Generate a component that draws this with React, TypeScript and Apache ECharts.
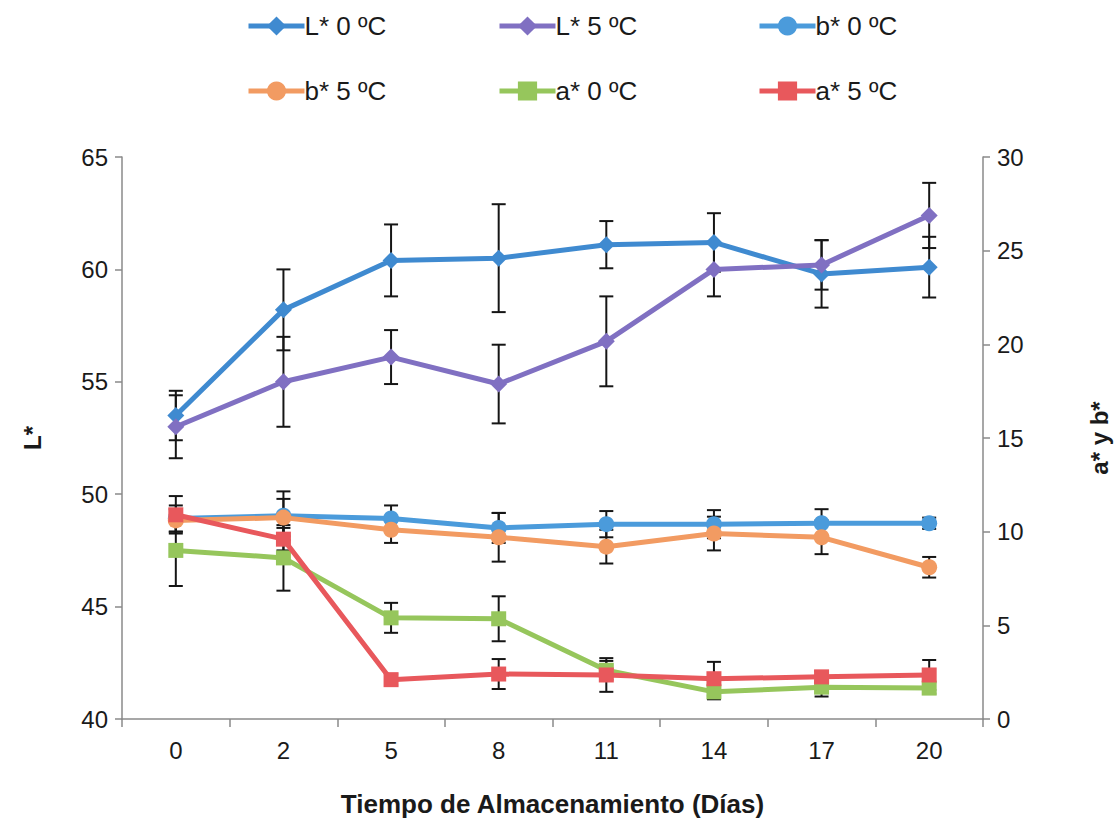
import React, { useEffect, useRef } from "react";
import * as echarts from "echarts";

const days = ["0", "2", "5", "8", "11", "14", "17", "20"];

const L0 = [53.5, 58.2, 60.4, 60.5, 61.1, 61.2, 59.8, 60.1];
const L0err = [1.1, 1.8, 1.6, 2.4, 1.05, 1.3, 1.5, 1.35];
const L5 = [53.0, 55.0, 56.1, 54.9, 56.8, 60.0, 60.2, 62.4];
const L5err = [1.4, 2.0, 1.2, 1.75, 2.0, 1.2, 1.1, 1.45];

const b0 = [10.7, 10.85, 10.7, 10.2, 10.4, 10.4, 10.45, 10.45];
const b0err = [0.7, 1.3, 0.7, 0.8, 0.7, 0.75, 0.75, 0.3];
const b5 = [10.6, 10.75, 10.1, 9.7, 9.2, 9.9, 9.7, 8.1];
const b5err = [0.6, 1.0, 0.7, 1.3, 0.9, 0.9, 0.9, 0.55];
const a0 = [9.0, 8.6, 5.4, 5.35, 2.6, 1.45, 1.7, 1.65];
const a0err = [1.9, 1.75, 0.8, 1.2, 0.5, 0.4, 0.5, 0.3];
const a5 = [10.9, 9.6, 2.1, 2.4, 2.35, 2.15, 2.25, 2.35];
const a5err = [1.0, 0.6, 0.3, 0.8, 0.9, 0.9, 0.3, 0.8];

const names = ["L* 0 ºC", "L* 5 ºC", "b* 0 ºC", "b* 5 ºC", "a* 0 ºC", "a* 5 ºC"];
const colors = ["#3F8AD0", "#8070C2", "#4B9BDB", "#F29B62", "#96C65C", "#E8585C"];
const symbols = ["diamond", "diamond", "circle", "circle", "rect", "rect"];
const symbolSizes = [17, 17, 16, 16, 15, 15];
const values = [L0, L5, b0, b5, a0, a5];
const errors = [L0err, L5err, b0err, b5err, a0err, a5err];
const axisIdx = [0, 0, 1, 1, 1, 1];

const FONT = "Liberation Sans, Arial, sans-serif";

export default function App() {
  const ref = useRef<HTMLDivElement>(null);
  useEffect(() => {
    if (!ref.current) return;
    const chart = echarts.init(ref.current, null, { renderer: "svg" });

    const errSeries = values.map((vals, s) => ({
      type: "custom",
      name: names[s] + " err",
      yAxisIndex: axisIdx[s],
      z: 1,
      silent: true,
      encode: { x: 0, y: 1 },
      data: vals.map((v, i) => [i, v, errors[s][i]]),
      renderItem: (params: any, api: any) => {
        const x = api.value(0);
        const v = api.value(1);
        const e = api.value(2);
        const top = api.coord([x, v + e]);
        const bot = api.coord([x, v - e]);
        const w = 7;
        const st = { stroke: "#151515", lineWidth: 2 };
        return {
          type: "group",
          children: [
            { type: "line", shape: { x1: top[0], y1: top[1], x2: bot[0], y2: bot[1] }, style: st },
            { type: "line", shape: { x1: top[0] - w, y1: top[1], x2: top[0] + w, y2: top[1] }, style: st },
            { type: "line", shape: { x1: bot[0] - w, y1: bot[1], x2: bot[0] + w, y2: bot[1] }, style: st },
          ],
        };
      },
    }));

    const lineSeries = values.map((vals, s) => ({
      type: "line",
      name: names[s],
      yAxisIndex: axisIdx[s],
      data: vals,
      z: 3 + s,
      symbol: symbols[s],
      symbolSize: symbolSizes[s],
      showAllSymbol: true,
      lineStyle: { color: colors[s], width: 5 },
      itemStyle: { color: colors[s] },
    }));

    const legendPos = [
      [246, 13],
      [497, 13],
      [757, 13],
      [246, 78],
      [497, 78],
      [757, 78],
    ];

    const legends = names.map((n, i) => ({
      data: [n],
      left: legendPos[i][0],
      top: legendPos[i][1],
      padding: 0,
      itemWidth: 56,
      itemHeight: 24,
      itemGap: 0,
      selectedMode: false,
      lineStyle: { width: 5 },
      textStyle: { fontSize: 26, fontFamily: FONT, color: "#1a1a1a", padding: [0, 0, 0, -5] },
    }));

    const axisLabelStyle = { fontSize: 24, fontFamily: FONT, color: "#1a1a1a" };
    const axisLineStyle = { lineStyle: { color: "#8a8a8a", width: 1.5 } };

    chart.setOption({
      animation: false,
      backgroundColor: "#ffffff",
      legend: legends,
      grid: { left: 122, right: 132, top: 157, bottom: 102, containLabel: false },
      xAxis: {
        type: "category",
        data: days,
        boundaryGap: true,
        axisLine: axisLineStyle,
        axisTick: { show: true, alignWithLabel: false, length: 8, lineStyle: { color: "#8a8a8a", width: 1.5 } },
        axisLabel: { ...axisLabelStyle, margin: 19 },
        name: "Tiempo de Almacenamiento (Días)",
        nameLocation: "middle",
        nameGap: 72,
        nameTextStyle: { fontSize: 26, fontWeight: "bold", fontFamily: FONT, color: "#1a1a1a" },
        splitLine: { show: false },
      },
      yAxis: [
        {
          type: "value",
          min: 40,
          max: 65,
          interval: 5,
          position: "left",
          axisLine: { show: true, ...axisLineStyle },
          axisTick: { show: true, length: 7, lineStyle: { color: "#8a8a8a", width: 1.5 } },
          axisLabel: { ...axisLabelStyle, margin: 14 },
          splitLine: { show: false },
          name: "L*",
          nameLocation: "middle",
          nameRotate: 90,
          nameGap: 78,
          nameTextStyle: { fontSize: 24, fontWeight: "bold", fontFamily: FONT, color: "#1a1a1a" },
        },
        {
          type: "value",
          min: 0,
          max: 30,
          interval: 5,
          position: "right",
          axisLine: { show: true, ...axisLineStyle },
          axisTick: { show: true, length: 7, lineStyle: { color: "#8a8a8a", width: 1.5 } },
          axisLabel: { ...axisLabelStyle, margin: 14 },
          splitLine: { show: false },
          name: "a* y b*",
          nameLocation: "middle",
          nameRotate: 90,
          nameGap: 104,
          nameTextStyle: { fontSize: 24, fontWeight: "bold", fontFamily: FONT, color: "#1a1a1a" },
        },
      ],
      series: [...errSeries, ...lineSeries],
    });

    return () => chart.dispose();
  }, []);

  return (
    <div
      ref={ref}
      style={{ position: "absolute", left: 0, top: 0, width: 1119, height: 822, background: "#fff" }}
    />
  );
}
